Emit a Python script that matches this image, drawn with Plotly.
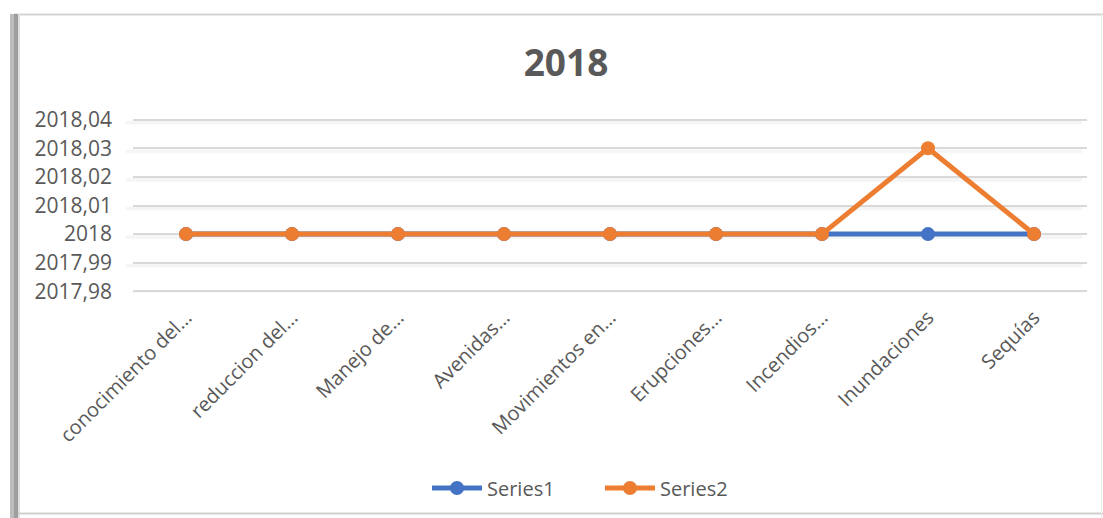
import plotly.graph_objects as go

categories = ["conocimiento del…", "reduccion del…", "Manejo de…", "Avenidas…",
              "Movimientos en…", "Erupciones…", "Incendios…", "Inundaciones", "Sequías"]
series1 = [2018, 2018, 2018, 2018, 2018, 2018, 2018, 2018, 2018]
series2 = [2018, 2018, 2018, 2018, 2018, 2018, 2018, 2018.03, 2018]
y_tickvals = [2017.98, 2017.99, 2018.00, 2018.01, 2018.02, 2018.03, 2018.04]
y_ticktext = ["2017,98", "2017,99", "2018", "2018,01", "2018,02", "2018,03", "2018,04"]

W, H = 1103, 518
L, R, T, B = 133, 16, 118, 225
PW = W - L - R
PH = H - T - B

def px_x(p):
    return (p - L) / PW

def px_y(p):
    return (H - B - p) / PH

TEXT = "#595959"
FONT = "Open Sans"
EPS = 0.0006

fig = go.Figure()
fig.add_trace(go.Scatter(x=categories, y=series1, name="Series1", mode="lines+markers",
                         line=dict(color="#4472C4", width=5),
                         marker=dict(size=14, color="#4472C4")))
fig.add_trace(go.Scatter(x=categories, y=series2, name="Series2", mode="lines+markers",
                         line=dict(color="#ED7D31", width=5),
                         marker=dict(size=14, color="#ED7D31")))

shapes = []
# soft shadows under gridlines
for v in y_tickvals:
    shapes.append(dict(type="rect", xref="paper", yref="y", x0=px_x(126), x1=px_x(1082),
                       y0=v - 0.0017, y1=v - 0.0004, fillcolor="rgba(0,0,0,0.04)",
                       line=dict(width=0), layer="below"))
# chart frame
shapes += [
    dict(type="line", xref="paper", yref="paper", x0=px_x(14), x1=px_x(1103),
         y0=px_y(14.5), y1=px_y(14.5), line=dict(color="#D4D4D4", width=2)),
    dict(type="rect", xref="paper", yref="paper", x0=px_x(10), x1=px_x(14),
         y0=px_y(14), y1=px_y(518), fillcolor="#BDBDBD", line=dict(width=0)),
    dict(type="rect", xref="paper", yref="paper", x0=px_x(14), x1=px_x(18),
         y0=px_y(14), y1=px_y(518), fillcolor="#9E9E9E", line=dict(width=0)),
    dict(type="rect", xref="paper", yref="paper", x0=px_x(18), x1=px_x(20),
         y0=px_y(14), y1=px_y(518), fillcolor="#E0E0E0", line=dict(width=0)),
    dict(type="line", xref="paper", yref="paper", x0=px_x(18), x1=px_x(1103),
         y0=px_y(513.5), y1=px_y(513.5), line=dict(color="#CFCFCF", width=2)),
    dict(type="line", xref="paper", yref="paper", x0=px_x(1101.5), x1=px_x(1101.5),
         y0=px_y(14), y1=px_y(518), line=dict(color="#EBEBEB", width=1)),
]

fig.update_layout(
    width=W, height=H,
    margin=dict(l=L, r=R, t=T, b=B, pad=0),
    paper_bgcolor="white", plot_bgcolor="white",
    font=dict(family=FONT, color=TEXT, size=20),
    title=dict(text="<b>2018</b>", x=566 / W, xref="container", xanchor="center",
               y=1 - 63 / H, yref="container", yanchor="middle",
               font=dict(family=FONT, size=37, color=TEXT)),
    showlegend=True,
    legend=dict(orientation="h", xref="container", yref="container",
                x=600 / W, xanchor="center", y=1 - 488 / H, yanchor="middle",
                font=dict(family=FONT, size=20, color=TEXT), itemwidth=50,
                entrywidth=108, entrywidthmode="pixels",
                traceorder="normal", tracegroupgap=0),
    xaxis=dict(type="category", range=[-0.5, len(categories) - 0.5], showgrid=False,
               zeroline=False, showline=False, tickangle=-45, ticks="",
               ticklabelstandoff=8,
               tickfont=dict(family=FONT, size=20, color=TEXT)),
    yaxis=dict(range=[y_tickvals[0] - EPS, y_tickvals[-1] + EPS],
               tickvals=y_tickvals, ticktext=y_ticktext,
               showgrid=True, gridcolor="#D9D9D9", gridwidth=1.5, zeroline=False,
               showline=False, ticks="", ticklabelstandoff=20,
               tickfont=dict(family=FONT, size=21, color=TEXT)),
    shapes=shapes,
)

fig.write_html("out.html", config={"displayModeBar": False},
               post_script="document.body.style.margin='0';document.body.style.overflow='hidden';")
